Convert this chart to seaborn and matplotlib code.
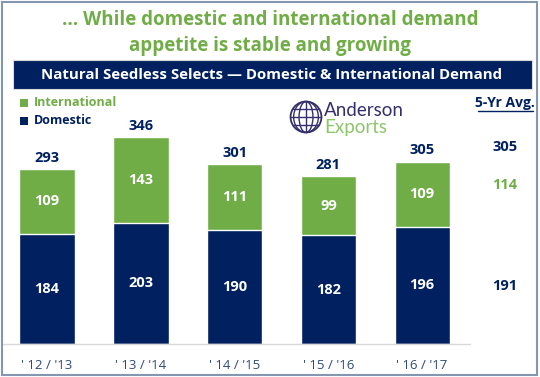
import numpy as np
import pandas as pd
import seaborn as sns
import matplotlib.pyplot as plt
from matplotlib.patches import Rectangle, Circle, Ellipse

# data
seasons = ["' 12 / '13", "' 13 / '14", "' 14 / '15", "' 15 / '16", "' 16 / '17"]
domestic = [184, 203, 190, 182, 196]
international = [109, 143, 111, 99, 109]
avg_total = 305
avg_international = 114
avg_domestic = 191

NAVY = "#002060"
GREEN = "#70AD47"
TICK = "#2F4A7A"

sns.set_theme(style="white")
plt.rcParams["font.family"] = ["Open Sans", "DejaVu Sans"]

df = pd.DataFrame({"season": seasons, "domestic": domestic, "international": international})
df["total"] = df["domestic"] + df["international"]

W, H = 540, 377
fig = plt.figure(figsize=(W / 100, H / 100), dpi=100)


def fx(px):
    return px / W


def fy(py):
    return 1 - py / H


# outer frame
fig.patches.append(Rectangle((fx(2), fy(375)), fx(535), 373 / H, transform=fig.transFigure,
                             fill=False, edgecolor="#8497B0", lw=1.5))

# headline
fig.text(0.5, fy(20), "… While domestic and international demand", ha="center", va="center",
         color=GREEN, fontsize=13.5, fontweight="bold")
fig.text(0.5, fy(46), "appetite is stable and growing", ha="center", va="center",
         color=GREEN, fontsize=13.5, fontweight="bold")

# navy banner
fig.patches.append(Rectangle((fx(13), fy(89)), fx(519), 29 / H, transform=fig.transFigure,
                             facecolor=NAVY, edgecolor="#D9D9D9", lw=0.8))
fig.text(fx(272), fy(75), "Natural Seedless Selects — Domestic & International Demand",
         ha="center", va="center", color="white", fontsize=10.8, fontweight="bold")

# chart area
ax = fig.add_axes([fx(3), fy(344), fx(467), 244 / H])
sns.barplot(data=df, x="season", y="total", color=GREEN, width=0.59, saturation=1, ax=ax)
sns.barplot(data=df, x="season", y="domestic", color=NAVY, width=0.59, saturation=1, ax=ax)
ax.set_xlim(-0.47, 4.51)
ax.set_ylim(0, 408)
sns.despine(ax=ax, left=True, top=True, right=True)
ax.spines["bottom"].set_color("#D9D9D9")
ax.spines["bottom"].set_linewidth(1)
ax.set_yticks([])
ax.set_xlabel("")
ax.set_ylabel("")
ax.tick_params(axis="x", length=0, pad=11, labelsize=9.5, labelcolor=TICK)

for i, row in df.iterrows():
    ax.text(i, row["domestic"] / 2, str(row["domestic"]), ha="center", va="center",
            color="white", fontsize=10.5, fontweight="bold")
    ax.text(i, row["domestic"] + row["international"] / 2, str(row["international"]),
            ha="center", va="center", color="white", fontsize=10.5, fontweight="bold")
    ax.annotate(str(row["total"]), (i, row["total"]), xytext=(0, 8), textcoords="offset points",
                ha="center", va="center", color=NAVY, fontsize=10.5, fontweight="bold",
                annotation_clip=False)

# 5-year average column
ax.text(4.885, 329, str(avg_total), ha="center", va="center", color=NAVY,
        fontsize=10.5, fontweight="bold", clip_on=False)
ax.text(4.885, 266, str(avg_international), ha="center", va="center", color=GREEN,
        fontsize=10.5, fontweight="bold", clip_on=False)
ax.text(4.885, avg_domestic / 2 + 2, str(avg_domestic), ha="center", va="center", color=NAVY,
        fontsize=10.5, fontweight="bold", clip_on=False)
fig.text(fx(505), fy(103), "5-Yr Avg.", ha="center", va="center", color=NAVY,
         fontsize=10, fontweight="bold")
fig.lines.append(plt.Line2D([fx(478), fx(533)], [fy(111), fy(111)], transform=fig.transFigure,
                            color=NAVY, lw=1))

# legend
for py, label, col in [(103, "International", GREEN), (121, "Domestic", NAVY)]:
    fig.patches.append(Rectangle((fx(20), fy(py + 4)), fx(8), 8 / H, transform=fig.transFigure,
                                 facecolor=col, edgecolor="none"))
    fig.text(fx(34), fy(py), label, ha="left", va="center", color=col,
             fontsize=9, fontweight="bold")

# logo
lax = fig.add_axes([fx(289), fy(134), fx(34), 34 / H])
lax.set_xlim(-1.1, 1.1)
lax.set_ylim(-1.1, 1.1)
lax.set_aspect("equal")
lax.axis("off")
LOGO = "#35306B"
lax.add_patch(Circle((0, 0), 1, fill=False, edgecolor=LOGO, lw=1.3))
for w in [0.9, 1.6]:
    lax.add_patch(Ellipse((0, 0), w, 2, fill=False, edgecolor=LOGO, lw=1))
lax.plot([0, 0], [-1, 1], color=LOGO, lw=1)
for yy in [-0.5, 0, 0.5]:
    xx = np.sqrt(1 - yy ** 2)
    lax.plot([-xx, xx], [yy, yy], color=LOGO, lw=1)
fig.text(fx(324), fy(111), "Anderson", ha="left", va="center", color=LOGO, fontsize=13.5,
         family=["Lato", "DejaVu Sans"])
fig.text(fx(324), fy(128), "Exports", ha="left", va="center", color="#8CC56A", fontsize=13.5,
         family=["Lato", "DejaVu Sans"])

fig.savefig("out.png", dpi=100)
